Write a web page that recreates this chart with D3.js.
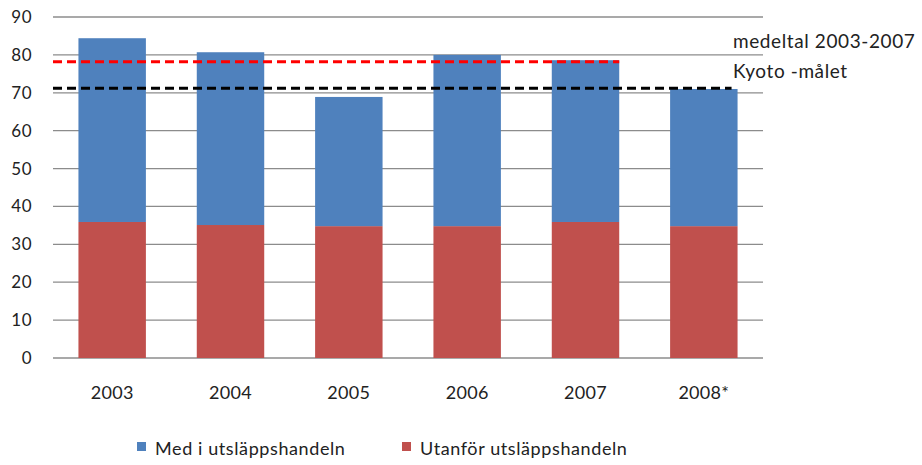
<!DOCTYPE html>
<html>
<head>
<script src="https://cdnjs.cloudflare.com/ajax/libs/d3/7.8.5/d3.min.js"></script>
<style>
  body { margin:0; background:#fff; font-family: Lato, 'Open Sans', sans-serif; }
</style>
</head>
<body>
<script>
var years = ["2003", "2004", "2005", "2006", "2007", "2008*"];
var utanfor = [35.9, 35.1, 34.8, 34.8, 35.9, 34.8];
var medI = [48.5, 45.6, 34.1, 45.2, 42.7, 36.2];
var yTicks = [0, 10, 20, 30, 40, 50, 60, 70, 80, 90];
var medeltal = 78.2, kyoto = 71.2;
var seriesNames = ["Med i utsläppshandeln", "Utanför utsläppshandeln"];
var colors = ["#4F81BD", "#C0504D"];

var width = 922, height = 465;
var svg = d3.select("body").append("svg").attr("width", width).attr("height", height);

var x = d3.scaleBand().domain(years).range([53, 763]).paddingInner(0.43).paddingOuter(0.215);
var y = d3.scaleLinear().domain([0, 90]).range([358, 17]);

// grid
svg.append("g").selectAll("line").data(yTicks).enter().append("line")
  .attr("x1", 53).attr("x2", 763)
  .attr("y1", d => y(d)).attr("y2", d => y(d))
  .attr("stroke", "#8c8c8c").attr("stroke-width", 1.3);

var yAxis = svg.append("g").attr("transform", "translate(53,0)")
  .call(d3.axisLeft(y).tickValues(yTicks).tickSize(0).tickPadding(21));
yAxis.select(".domain").remove();
yAxis.selectAll("text").attr("font-size", 17).attr("fill", "#222").attr("font-family", "Lato, sans-serif")
  .attr("letter-spacing", 0.5);

var xAxis = svg.append("g").attr("transform", "translate(0,358)")
  .call(d3.axisBottom(x).tickSize(0).tickPadding(28));
xAxis.select(".domain").remove();
xAxis.selectAll("text").attr("font-size", 18).attr("fill", "#222").attr("font-family", "Lato, sans-serif")
  .attr("letter-spacing", 0.3);

// bars
var bars = svg.append("g");
years.forEach(function(yr, i) {
  bars.append("rect")
    .attr("x", x(yr)).attr("width", x.bandwidth())
    .attr("y", y(utanfor[i])).attr("height", y(0) - y(utanfor[i]))
    .attr("fill", colors[1]);
  bars.append("rect")
    .attr("x", x(yr)).attr("width", x.bandwidth())
    .attr("y", y(utanfor[i] + medI[i])).attr("height", y(utanfor[i]) - y(utanfor[i] + medI[i]))
    .attr("fill", colors[0]);
});

// reference lines
svg.append("line")
  .attr("x1", 53).attr("x2", x("2007") + x.bandwidth())
  .attr("y1", y(medeltal)).attr("y2", y(medeltal))
  .attr("stroke", "#ff0000").attr("stroke-width", 3).attr("stroke-dasharray", "9 5");
svg.append("line")
  .attr("x1", 53).attr("x2", x("2008*") + x.bandwidth() - 6)
  .attr("y1", y(kyoto)).attr("y2", y(kyoto))
  .attr("stroke", "#000").attr("stroke-width", 3).attr("stroke-dasharray", "9 5");

svg.append("text").attr("x", 733).attr("y", 48).attr("font-size", 19).attr("fill", "#222")
  .attr("letter-spacing", 0.6).text("medeltal 2003-2007");
svg.append("text").attr("x", 733).attr("y", 78).attr("font-size", 19).attr("fill", "#222")
  .attr("letter-spacing", 0.6).text("Kyoto -målet");

// legend
var legX = [137, 402];
seriesNames.forEach(function(n, i) {
  svg.append("rect").attr("x", legX[i]).attr("y", 442).attr("width", 9).attr("height", 9).attr("fill", colors[i]);
  svg.append("text").attr("x", legX[i] + 18).attr("y", 455).attr("font-size", 18).attr("fill", "#222")
    .attr("letter-spacing", 0.6).text(n);
});
</script>
</body>
</html>
